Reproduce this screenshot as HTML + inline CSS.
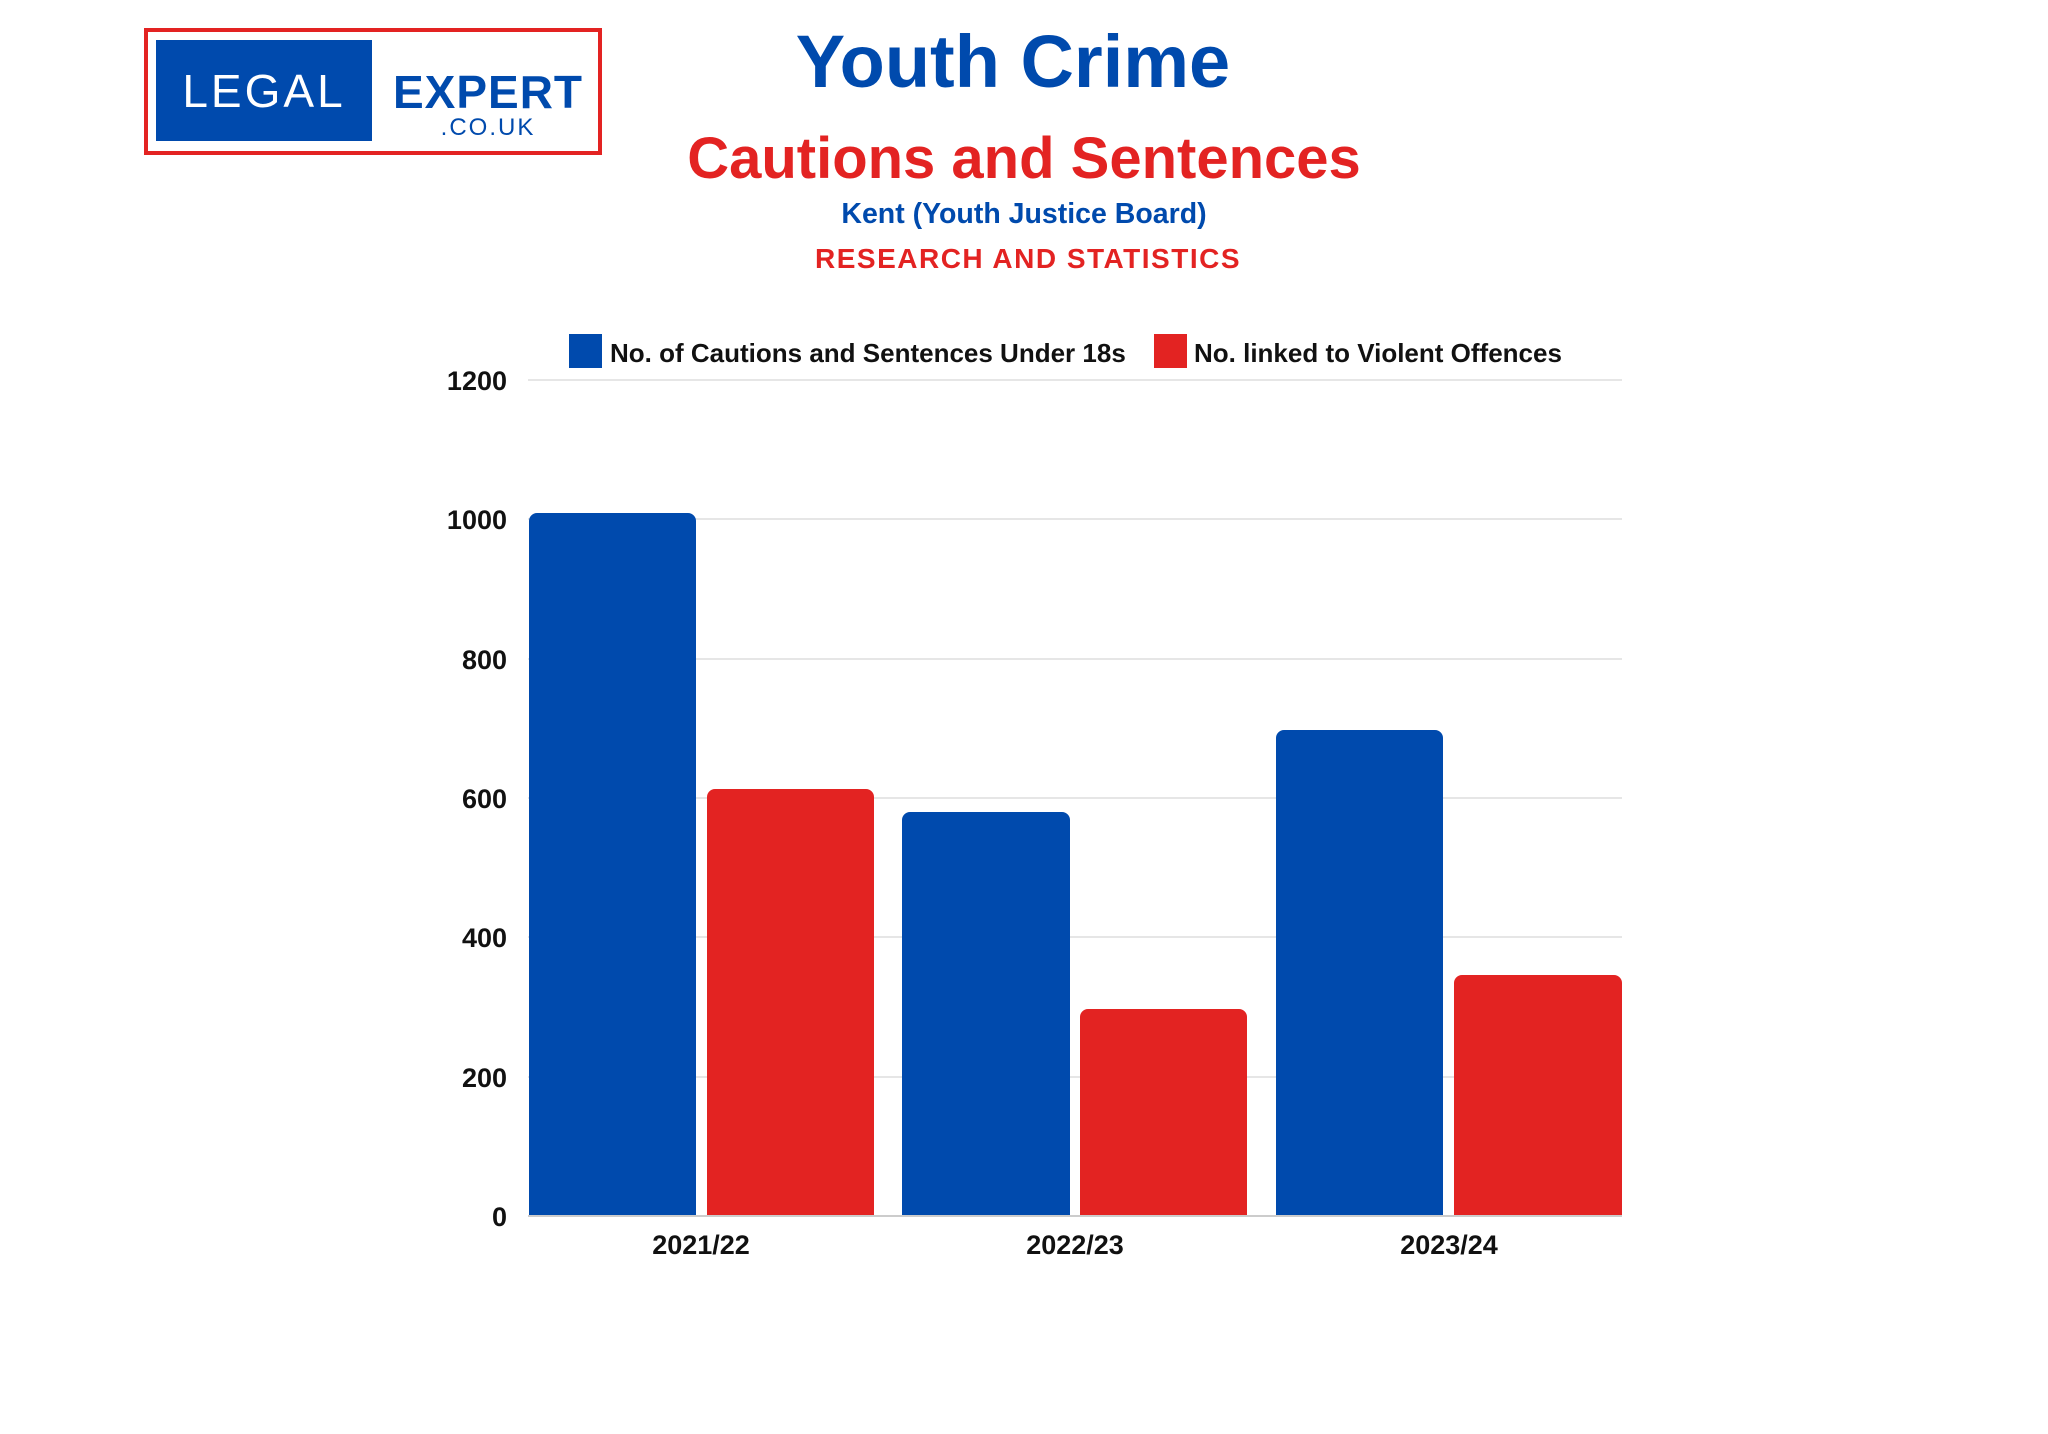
<!DOCTYPE html>
<html><head><meta charset="utf-8"><style>
body{margin:0;background:#fff;}
svg{display:block;}
</style></head><body>
<svg width="2048" height="1434" viewBox="0 0 2048 1434" xmlns="http://www.w3.org/2000/svg" font-family="Liberation Sans, sans-serif">
<rect width="2048" height="1434" fill="#fff"/>
<rect x="146" y="30" width="454" height="123" fill="#fff" stroke="#e32322" stroke-width="4"/>
<rect x="156" y="40" width="216" height="101" fill="#004aad"/>
<text x="264" y="107" text-anchor="middle" font-size="46" fill="#fff" letter-spacing="3">LEGAL</text>
<text x="488" y="108" text-anchor="middle" font-size="46" font-weight="bold" fill="#004aad" letter-spacing="1">EXPERT</text>
<text x="488" y="135" text-anchor="middle" font-size="24" fill="#004aad" letter-spacing="2">.CO.UK</text>
<text x="1013" y="87" text-anchor="middle" font-size="74" font-weight="bold" fill="#004aad">Youth Crime</text>
<text x="1024" y="178" text-anchor="middle" font-size="58" font-weight="bold" fill="#e32322">Cautions and Sentences</text>
<text x="1024" y="223" text-anchor="middle" font-size="28.5" font-weight="bold" fill="#004aad">Kent (Youth Justice Board)</text>
<text x="1028" y="268" text-anchor="middle" font-size="28" font-weight="bold" fill="#e32322" letter-spacing="1.5">RESEARCH AND STATISTICS</text>
<rect x="569" y="334" width="33" height="34" fill="#004aad"/>
<text x="610" y="362" font-size="26" font-weight="bold" fill="#111">No. of Cautions and Sentences Under 18s</text>
<rect x="1154" y="334" width="33" height="34" fill="#e32322"/>
<text x="1194" y="362" font-size="26" font-weight="bold" fill="#111">No. linked to Violent Offences</text>
<g stroke="#e6e6e6" stroke-width="2">
<line x1="528" y1="380" x2="1622" y2="380"/>
<line x1="528" y1="519" x2="1622" y2="519"/>
<line x1="528" y1="659" x2="1622" y2="659"/>
<line x1="528" y1="798" x2="1622" y2="798"/>
<line x1="528" y1="937" x2="1622" y2="937"/>
<line x1="528" y1="1077" x2="1622" y2="1077"/>
</g>
<g font-size="27" font-weight="bold" fill="#111" text-anchor="end">
<text x="507" y="390">1200</text>
<text x="507" y="529">1000</text>
<text x="507" y="669">800</text>
<text x="507" y="808">600</text>
<text x="507" y="947">400</text>
<text x="507" y="1087">200</text>
<text x="507" y="1226">0</text>
</g>
<g>
<path d="M529 1216V521a8 8 0 0 1 8-8h151a8 8 0 0 1 8 8V1216Z" fill="#004aad"/>
<path d="M707 1216V797a8 8 0 0 1 8-8h151a8 8 0 0 1 8 8V1216Z" fill="#e32322"/>
<path d="M902 1216V820a8 8 0 0 1 8-8h152a8 8 0 0 1 8 8V1216Z" fill="#004aad"/>
<path d="M1080 1216V1017a8 8 0 0 1 8-8h151a8 8 0 0 1 8 8V1216Z" fill="#e32322"/>
<path d="M1276 1216V738a8 8 0 0 1 8-8h151a8 8 0 0 1 8 8V1216Z" fill="#004aad"/>
<path d="M1454 1216V983a8 8 0 0 1 8-8h152a8 8 0 0 1 8 8V1216Z" fill="#e32322"/>
</g>
<line x1="528" y1="1216" x2="1622" y2="1216" stroke="#ccc" stroke-width="2"/>
<g font-size="27" font-weight="bold" fill="#111" text-anchor="middle">
<text x="701" y="1254">2021/22</text>
<text x="1075" y="1254">2022/23</text>
<text x="1449" y="1254">2023/24</text>
</g>
</svg>
</body></html>
